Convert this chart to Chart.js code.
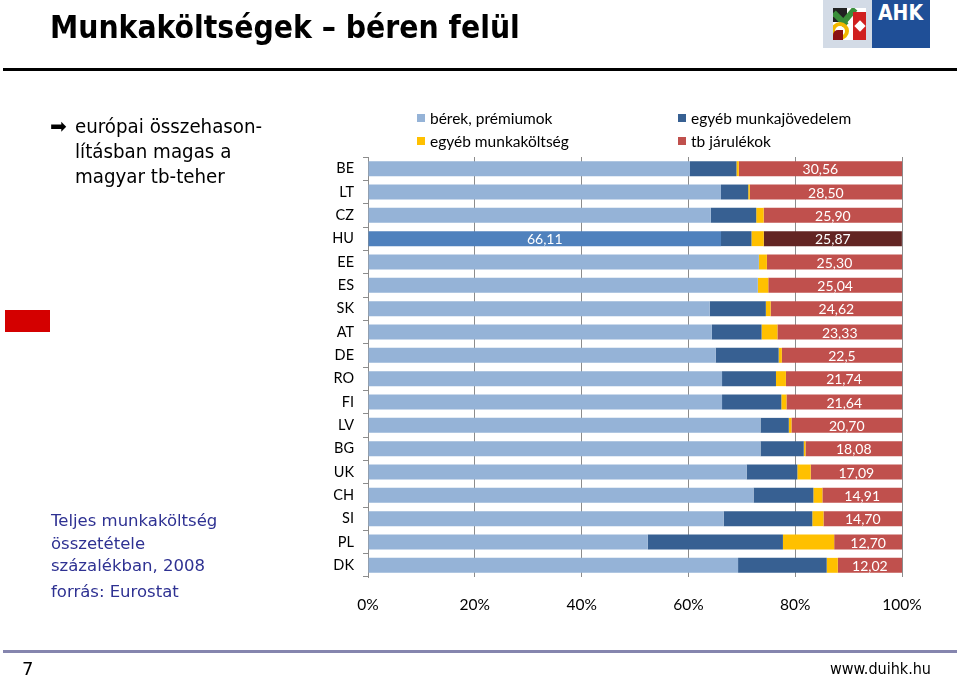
<!DOCTYPE html>
<html><head><meta charset="utf-8">
<script src="https://cdn.jsdelivr.net/npm/chart.js@4/dist/chart.umd.min.js"></script>
<style>
html,body{margin:0;padding:0;background:#fff;}
#wrap{position:relative;width:960px;height:678px;overflow:hidden;font-family:Lato,sans-serif;}
#c{position:absolute;left:0;top:0;}
.abs{position:absolute;white-space:nowrap;}
#title{left:50px;top:8px;font-family:'DejaVu Sans Condensed','DejaVu Sans',sans-serif;font-weight:bold;font-size:32px;color:#000;transform:scaleX(0.985);transform-origin:left top;}
#hr1{left:3px;top:68px;width:954px;height:3px;background:#000;}
#hr2{left:3px;top:650px;width:954px;height:3px;background:#8585AE;}
#bul{left:50px;top:114px;font-family:'DejaVu Sans',sans-serif;font-size:20px;line-height:25px;color:#000;}
#bultxt{left:75px;top:114px;font-family:'DejaVu Sans Condensed','DejaVu Sans',sans-serif;font-size:20.3px;line-height:25px;color:#000;}
#redbox{left:5px;top:310px;width:45px;height:22px;background:#D40000;}
#note{left:51px;top:510px;font-family:'DejaVu Sans',sans-serif;font-size:16.5px;line-height:22.5px;color:#2E3192;}
#src{left:51px;top:582px;font-family:'DejaVu Sans',sans-serif;font-size:16.5px;color:#2E3192;}
#pg{left:22px;top:658px;font-family:'DejaVu Sans',sans-serif;font-size:18px;color:#000;}
#url{left:830px;top:659px;font-family:'DejaVu Sans Condensed','DejaVu Sans',sans-serif;font-size:16px;color:#000;}
.lg{position:absolute;font-family:Lato,sans-serif;font-size:15.5px;color:#000;white-space:nowrap;}
.lg i{position:absolute;left:-13px;top:5px;width:8px;height:8px;}
#logo{left:823px;top:0px;width:107px;height:48px;}
</style></head>
<body><div id="wrap">
<canvas id="c" width="960" height="678"></canvas>
<div class="abs" id="title">Munkaköltségek – béren felül</div>
<div class="abs" id="hr1"></div>
<div class="abs" id="hr2"></div>
<div class="abs" id="bul">➡</div>
<div class="abs" id="bultxt">európai összehason-<br>lításban magas a<br>magyar tb-teher</div>
<div class="abs" id="redbox"></div>
<div class="abs" id="note">Teljes munkaköltség<br>összetétele<br>százalékban, 2008</div>
<div class="abs" id="src">forrás: Eurostat</div>
<div class="abs" id="pg">7</div>
<div class="abs" id="url">www.duihk.hu</div>
<div class="abs" id="logo">
  <div class="abs" style="left:0;top:0;width:49px;height:48px;background:#D3DBE6;"></div>
  <div class="abs" style="left:10px;top:8px;width:33px;height:32px;background:#fff;overflow:hidden;">
    <div class="abs" style="left:0;top:0;width:14px;height:14px;background:#222;"></div>
    <div class="abs" style="left:4px;top:2px;width:6px;height:18px;background:#3A8F3A;transform:rotate(-45deg);"></div>
    <div class="abs" style="left:12px;top:-2px;width:6px;height:22px;background:#3A8F3A;transform:rotate(40deg);"></div>
    <div class="abs" style="left:20px;top:4px;width:13px;height:28px;background:#D02020;"></div>
    <div class="abs" style="left:23px;top:14px;width:8px;height:8px;background:#fff;transform:rotate(45deg);"></div>
    <div class="abs" style="left:-2px;top:14px;width:18px;height:18px;border:4px solid #F2B800;border-radius:50%;box-sizing:border-box;"></div>
    <div class="abs" style="left:0;top:22px;width:10px;height:10px;background:#8B1010;border-radius:5px 0 0 0;"></div>
  </div>
  <div class="abs" style="left:49px;top:0;width:58px;height:48px;background:#1F4F97;"></div>
  <div class="abs" style="left:55px;top:1px;color:#fff;font-family:'DejaVu Sans Condensed','DejaVu Sans',sans-serif;font-weight:bold;font-size:21px;">AHK</div>
</div>
<div class="lg" style="left:430px;top:109px;"><i style="background:#95B3D7"></i>bérek, prémiumok</div>
<div class="lg" style="left:430px;top:132px;"><i style="background:#FFC000"></i>egyéb munkaköltség</div>
<div class="lg" style="left:691px;top:109px;"><i style="background:#376092"></i>egyéb munkajövedelem</div>
<div class="lg" style="left:691px;top:132px;"><i style="background:#C0504D"></i>tb járulékok</div>
</div>
<script>
const countries = ['BE','LT','CZ','HU','EE','ES','SK','AT','DE','RO','FI','LV','BG','UK','CH','SI','PL','DK'];
const wages     = [60.3,66.1,64.2,66.11,73.2,73.0,64.0,64.4,65.1,66.3,66.3,73.5,73.5,70.9,72.2,66.6,52.4,69.3];
const otherInc  = [8.7,5.1,8.5,5.7,0.0,0.0,10.5,9.3,11.8,10.1,11.1,5.3,8.1,9.5,11.2,16.6,25.3,16.6];
const otherCost = [0.44,0.3,1.4,2.3,1.5,1.96,0.9,2.97,0.6,1.86,0.96,0.5,0.32,2.5,1.69,2.1,9.6,2.08];
const social    = [30.56,28.50,25.90,25.87,25.30,25.04,24.62,23.33,22.5,21.74,21.64,20.70,18.08,17.09,14.91,14.70,12.70,12.02];
const socialText= ['30,56','28,50','25,90','25,87','25,30','25,04','24,62','23,33','22,5','21,74','21,64','20,70','18,08','17,09','14,91','14,70','12,70','12,02'];
const xTicks    = ['0%','20%','40%','60%','80%','100%'];
const highlight = 'HU';

const hi = c => countries.map(k => k === highlight ? c[1] : c[0]);

const labelPlugin = {
  id:'lbl',
  afterDatasetsDraw(chart){
    const ctx = chart.ctx;
    ctx.save();
    ctx.font = '14px Lato, sans-serif';
    ctx.fillStyle = '#fff';
    ctx.textAlign = 'center';
    ctx.textBaseline = 'middle';
    const m3 = chart.getDatasetMeta(3);
    m3.data.forEach((el,i)=>{
      ctx.fillText(socialText[i], (el.base+el.x)/2, el.y+1);
    });
    const m0 = chart.getDatasetMeta(0);
    const hIdx = countries.indexOf(highlight);
    const e = m0.data[hIdx];
    ctx.fillText(String(wages[hIdx]).replace('.',','), (e.base+e.x)/2, e.y+1);
    ctx.restore();
  }
};

new Chart(document.getElementById('c'), {
  type:'bar',
  data:{
    labels: countries,
    datasets:[
      {label:'bérek, prémiumok', data:wages, backgroundColor:hi(['#95B3D7','#4F81BD'])},
      {label:'egyéb munkajövedelem', data:otherInc, backgroundColor:'#376092'},
      {label:'egyéb munkaköltség', data:otherCost, backgroundColor:'#FFC000'},
      {label:'tb járulékok', data:social, backgroundColor:hi(['#C0504D','#632523'])}
    ]
  },
  options:{
    indexAxis:'y',
    responsive:false,
    animation:false,
    events:[],
    layout:{padding:{left:0,right:58,top:157,bottom:61}},
    datasets:{bar:{barPercentage:0.64,categoryPercentage:1.0,borderWidth:0}},
    plugins:{legend:{display:false},tooltip:{enabled:false}},
    scales:{
      x:{
        stacked:true, min:0, max:100,
        afterFit(s){ s.height = 40; },
        afterBuildTicks(s){ s.ticks = xTicks.map((t,i)=>({value:i*20})); },
        ticks:{callback:(v,i)=>xTicks[i], font:{family:'Lato, sans-serif',size:15.5}, color:'#000', padding:19, maxRotation:0},
        grid:{color:'#8C8C8C', lineWidth:1, drawTicks:false},
        border:{display:false}
      },
      y:{
        stacked:true,
        afterFit(s){ s.width = 368; },
        ticks:{font:{family:'Lato, sans-serif',size:14.5}, color:'#000', padding:9},
        grid:{drawOnChartArea:false, drawTicks:true, tickLength:5, color:'#8C8C8C'},
        border:{display:true, color:'#8C8C8C'}
      }
    }
  },
  plugins:[labelPlugin]
});
</script>
</body></html>
